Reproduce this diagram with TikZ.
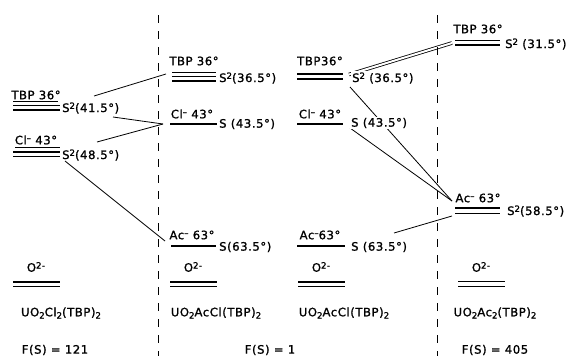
\documentclass[tikz,border=0pt]{standalone}
\usepackage{fontspec}
\setmainfont{DejaVu Sans}[LetterSpace=5, FakeBold=1.3]
\usetikzlibrary{backgrounds}
\newcommand{\myup}[1]{\raisebox{0.5ex}{\fontsize{8.6}{9}\selectfont #1}}
\newcommand{\mydn}[1]{\raisebox{-0.35ex}{\fontsize{8.6}{9}\selectfont #1}}
\begin{document}
\begin{tikzpicture}[x=1pt,y=-1pt,
  every node/.style={inner sep=1pt, font=\fontsize{11.6}{13}\selectfont},
  lvl/.style={line width=1.4pt},
  ulvl/.style={line width=0.8pt},
  conn/.style={line width=0.8pt},
  dconn/.style={double, double distance=2pt, line width=0.8pt},
  cover/.style={fill=white},
  sep/.style={dash pattern=on 8pt off 8pt, line width=1pt}]
\useasboundingbox (0,0) rectangle (577,356);

% separators
\coordinate (d1t) at (158,15); \coordinate (d1b) at (158,356);
\coordinate (d2t) at (437.5,15); \coordinate (d2b) at (437.5,356);
\draw[sep] (d1t) -- (d1b);
\draw[sep] (d2t) -- (d2b);

% ---- column 1: UO2Cl2(TBP)2
\node (t1) at (36,95) {TBP 36°};
\draw[ulvl] (13,101) -- (58,101);
\draw[lvl] (13,105.5) -- (60,105.5);
\draw[lvl] (13,110) -- (60,110);
\node[anchor=west] (s41) at (61,108) {S\myup{2}(41.5°)};
\node (c1) at (36,140) {Cl\myup{–} 43°};
\draw[ulvl] (15,147.5) -- (60,147.5);
\draw[lvl] (13,152) -- (60,152);
\draw[lvl] (13,156.5) -- (60,156.5);
\node[anchor=west] (s48) at (61,155) {S\myup{2}(48.5°)};
\node (o1) at (36,267) {O\myup{2-}};
\draw[lvl] (13,282) -- (60,282);
\draw[lvl] (13,286.5) -- (60,286.5);
\node (m1) at (61,313) {UO\mydn{2}Cl\mydn{2}(TBP)\mydn{2}};
\node (f1) at (55,350) {F(S) = 121};

% ---- column 2: UO2AcCl(TBP)2
\node (t2) at (194,61) {TBP 36°};
\draw[ulvl] (172,72.5) -- (216,72.5);
\draw[lvl] (172,76.5) -- (216,76.5);
\draw[lvl] (172,81) -- (216,81);
\node[anchor=west] (s365a) at (218,78) {S\myup{2}(36.5°)};
\node (c2) at (192,114) {Cl\myup{–} 43°};
\draw[lvl] (170,124) -- (217,124);
\node[anchor=west] (s435a) at (218,124) {S (43.5°)};
\node (a2) at (192,235) {Ac\myup{–} 63°};
\draw[lvl] (171,246) -- (216,246);
\node[anchor=west] (s635a) at (218,247) {S(63.5°)};
\node (o2) at (193,267) {O\myup{2-}};
\draw[lvl] (170,282) -- (217,282);
\draw[lvl] (170,286.5) -- (217,286.5);
\node (m2) at (216,313) {UO\mydn{2}AcCl(TBP)\mydn{2}};
\node (f2) at (270,350) {F(S) = 1};

% ---- column 3: UO2AcCl(TBP)2
\node (t3) at (320,61) {TBP36°};
\draw[lvl] (297,74) -- (343,74);
\draw[lvl] (297,79) -- (343,79);
\node[cover, anchor=west] (s365b) at (351,78) {S\myup{2} (36.5°)};
\node (c3) at (320,114) {Cl\myup{–} 43°};
\draw[lvl] (297,124) -- (343,124);
\node[cover, anchor=west] (s435b) at (350,123) {S (43.5°)};
\node (a3) at (320,235) {Ac\myup{–}63°};
\draw[lvl] (297,246) -- (345,246);
\node[anchor=west] (s635b) at (350,247) {S (63.5°)};
\node (o3) at (321,267) {O\myup{2-}};
\draw[lvl] (298,282) -- (345,282);
\draw[lvl] (298,286.5) -- (345,286.5);
\node (m3) at (344,313) {UO\mydn{2}AcCl(TBP)\mydn{2}};

% ---- column 4: UO2Ac2(TBP)2
\node (t4) at (478,29) {TBP 36°};
\draw[lvl] (455,40.5) -- (500,40.5);
\draw[lvl] (455,45) -- (500,45);
\node[anchor=west] (s315) at (504,44) {S\myup{2} (31.5°)};
\node (a4) at (478,198) {Ac\myup{–} 63°};
\draw[lvl] (455,208) -- (500,208);
\draw[lvl] (455,213.5) -- (500,213.5);
\node[anchor=west] (s585) at (506,211) {S\myup{2}(58.5°)};
\node (o4) at (481,267) {O\myup{2-}};
\draw[lvl] (458,281.5) -- (505,281.5);
\draw[lvl] (458,286.5) -- (505,286.5);
\node (m4) at (495,313) {UO\mydn{2}Ac\mydn{2}(TBP)\mydn{2}};
\node (f4) at (495,350) {F(S) = 405};

% ---- connector end points
\coordinate (p1) at (94,96);   \coordinate (q1) at (166,74);
\coordinate (p2) at (113,117); \coordinate (q2) at (163,124);
\coordinate (p3) at (97,142);
\coordinate (p4) at (65,161);  \coordinate (q4) at (165,241);
\coordinate (p5) at (349,74.5); \coordinate (q5) at (452,43);
\coordinate (p6) at (350,87);  \coordinate (q6) at (452,201);
\coordinate (p7) at (350,128);
\coordinate (p8) at (394,233); \coordinate (q8) at (452,216);

\begin{scope}[on background layer]
\draw[conn] (p1) -- (q1);
\draw[conn] (p2) -- (q2);
\draw[conn] (p3) -- (q2);
\draw[conn] (p4) -- (q4);
\draw[dconn] (p5) -- (q5);
\draw[conn] (p6) -- (q6);
\draw[conn] (p7) -- (q6);
\draw[conn] (p8) -- (q8);
\end{scope}
\end{tikzpicture}
\end{document}
